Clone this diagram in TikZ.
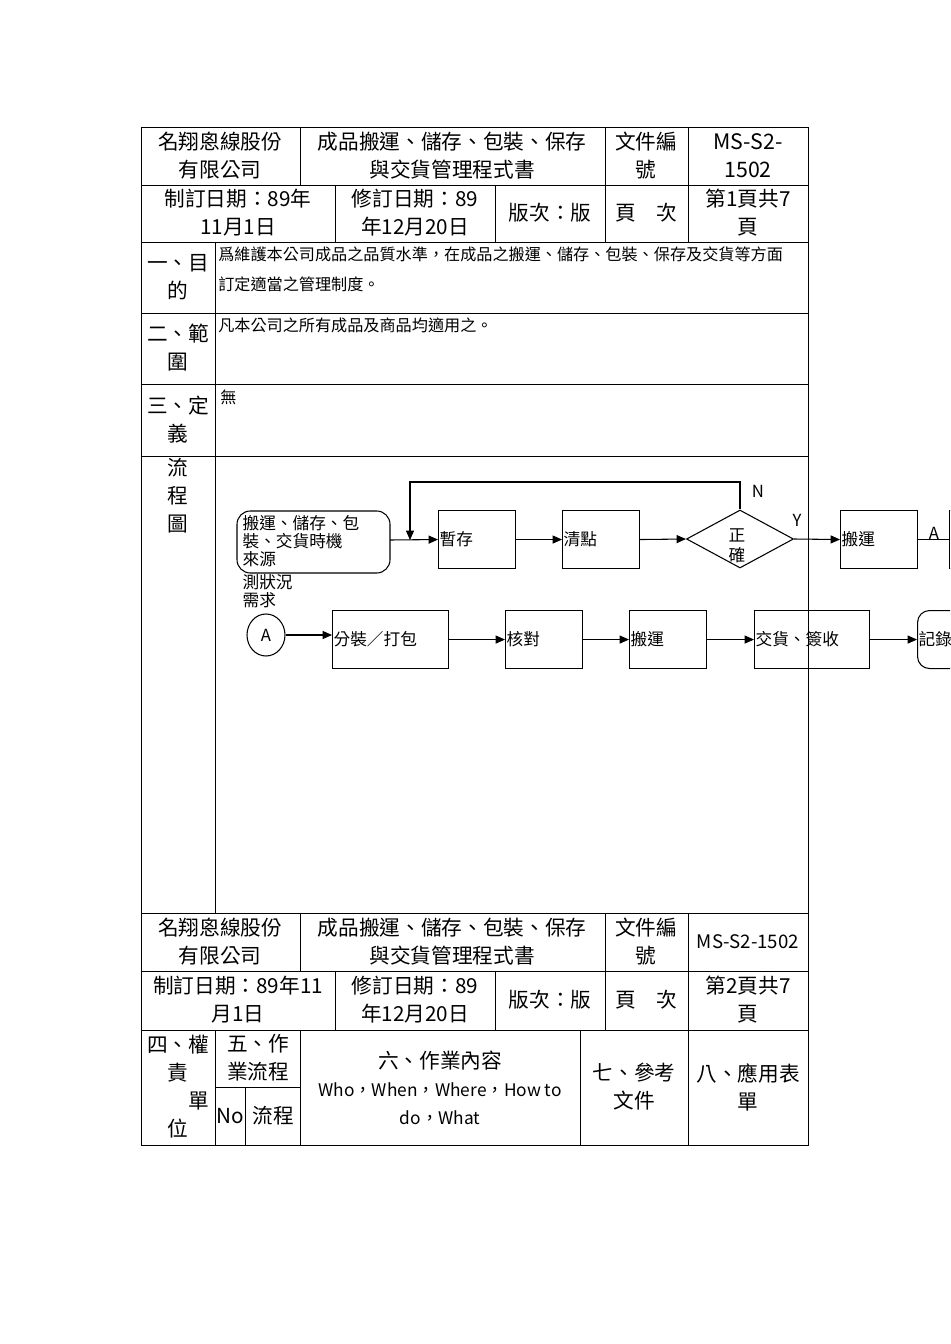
\documentclass[tikz,border=0pt]{standalone}
\usepackage{fontspec}
\setmainfont{Noto Sans CJK TC}
\usetikzlibrary{arrows.meta,shapes.geometric}
\begin{document}
\begin{tikzpicture}[x=0.75pt,y=-0.75pt,
  grid/.style={line width=0.6pt},
  hd/.style={font=\fontsize{15.5}{21}\selectfont,align=center,inner sep=0pt},
  bd/.style={font=\fontsize{12.1}{22}\selectfont,anchor=north west,align=left,inner sep=0pt},
  fbox/.style={draw,line width=0.8pt,anchor=north west,inner sep=0pt},
  ft/.style={font=\fontsize{12.5}{13}\selectfont,anchor=west,inner sep=1pt},
  arr/.style={line width=0.8pt,-{Triangle[length=7pt,width=6pt]}}]
\useasboundingbox (0,0) rectangle (950,1344);
\begin{scope}
\clip (0,0) rectangle (950,1344);
% ---- table 1 ----
\draw[grid] (141,127) rectangle (808,913);
\foreach \y in {185,242,313,384,456} \draw[grid] (141,\y) -- (808,\y);
\foreach \x in {300,605,688} \draw[grid] (\x,127) -- (\x,185);
\foreach \x in {335,495,605,688} \draw[grid] (\x,185) -- (\x,242);
\draw[grid] (215,242) -- (215,913);
% ---- table 2 ----
\draw[grid] (141,913) rectangle (808,1145);
\foreach \y in {971,1030} \draw[grid] (141,\y) -- (808,\y);
\foreach \x in {300,605,688} \draw[grid] (\x,913) -- (\x,971);
\foreach \x in {335,495,605,688} \draw[grid] (\x,971) -- (\x,1030);
\foreach \x in {215,300,580,688} \draw[grid] (\x,1030) -- (\x,1145);
\draw[grid] (215,1087) -- (300,1087);
\draw[grid] (245,1087) -- (245,1145);
% ---- header texts page 1 ----
\node[hd] (h1) at (220,156) {名翔恖線股份\\有限公司};
\node[hd] (h2) at (452,156) {成品搬運、儲存、包裝、保存\\與交貨管理程式書};
\node[hd] (h3) at (646,156) {文件編\\號};
\node[hd,font=\fontsize{16}{21}\selectfont] (h4) at (748,156) {MS-S2-\\1502};
\node[hd] (h5) at (238,213) {制訂日期：89年\\11月1日};
\node[hd] (h6) at (415,213) {修訂日期：89\\年12月20日};
\node[hd] (h7) at (550,213) {版次：版};
\node[hd] (h8) at (646,213) {頁\quad 次};
\node[hd] (h9) at (748,213) {第1頁共7\\頁};
% ---- section labels ----
\node[hd] (s1) at (178,277) {一、目\\的};
\node[hd] (s2) at (178,348) {二、範\\圍};
\node[hd] (s3) at (178,420) {三、定\\義};
\node[hd,anchor=north] (s4) at (178,458) {流\\程\\圖};
\node[bd] (b1) at (218,247) {爲維護本公司成品之品質水準，在成品之搬運、儲存、包裝、保存及交貨等方面\\訂定適當之管理制度。};
\node[bd] (b2) at (218,318) {凡本公司之所有成品及商品均適用之。};
\node[bd] (b3) at (220,390) {無};
% ---- header texts page 2 ----
\node[hd] (k1) at (220,942) {名翔恖線股份\\有限公司};
\node[hd] (k2) at (452,942) {成品搬運、儲存、包裝、保存\\與交貨管理程式書};
\node[hd] (k3) at (646,942) {文件編\\號};
\node[hd,font=\fontsize{14}{21}\selectfont] (k4) at (748,942) {MS-S2-1502};
\node[hd] (k5) at (238,1000) {制訂日期：89年11\\月1日};
\node[hd] (k6) at (415,1000) {修訂日期：89\\年12月20日};
\node[hd] (k7) at (550,1000) {版次：版};
\node[hd] (k8) at (646,1000) {頁\quad 次};
\node[hd] (k9) at (748,1000) {第2頁共7\\頁};
\node[hd] (m1) at (178,1087) {四、權\\責\\\hfill 單\\位};
\node[hd] (m2) at (258,1058) {五、作\\業流程};
\node[hd] (m3) at (230,1116) {No};
\node[hd] (m4) at (273,1116) {流程};
\node[hd] (m5) at (440,1088) {六、作業內容\\{\fontsize{13}{21}\selectfont Who，When，Where，How to}\\{\fontsize{13}{21}\selectfont do，What}};
\node[hd] (m6) at (634,1087) {七、參考\\文件};
\node[hd] (m7) at (748,1087) {八、應用表\\單};
% ---- flowchart ----
\draw[line width=0.8pt,rounded corners=10pt] (237,511) rectangle (390,573);
\node[ft,anchor=north west,align=left,font=\fontsize{12.5}{13.5}\selectfont] (src) at (241,514) {搬運、儲存、包\\裝、交貨時機\\來源};
\coordinate (srcE) at (390,540);
\node[ft,anchor=north west,align=left,font=\fontsize{12.5}{13.5}\selectfont] (need) at (241,573) {測狀況\\需求};
\node[fbox,minimum width=77pt*0.75,minimum height=58pt*0.75] (t1) at (438,510) {};
\node[ft] at (t1.west) {暫存};
\node[fbox,minimum width=77pt*0.75,minimum height=58pt*0.75] (t2) at (562,510) {};
\node[ft] at (t2.west) {清點};
\node[draw,diamond,line width=0.8pt,aspect=1.85,minimum width=107pt*0.75,minimum height=58pt*0.75,inner sep=0pt] (d) at (740,539) {};
\node[ft,align=center,font=\fontsize{12.5}{15}\selectfont,anchor=center] (dt) at (737,546) {正\\確};
\node[fbox,minimum width=77pt*0.75,minimum height=58pt*0.75] (t3) at (840,510) {};
\node[ft] at (t3.west) {搬運};
\node[fbox,minimum width=77pt*0.75,minimum height=58pt*0.75] (t4) at (949,510) {};
\coordinate (fb) at (410,540);
\draw[arr] (srcE) -- (t1.west);
\draw[arr] (t1.east) -- (t2.west);
\draw[arr] (t2.east) -- (d.west);
\draw[arr] (d.east) -- (t3.west);
\draw[line width=0.8pt] (t3.east) -- (t4.west);
\draw[arr] (d.north) -- (740,482) -- (410,482) -- (fb);
\node[ft,anchor=center] (nl) at (758,491) {N};
\node[ft,anchor=center] (yl) at (797,520) {Y};
\node[ft,anchor=center] (al) at (934,533) {A};
\node[draw,ellipse,line width=0.8pt,minimum width=38pt*0.75,minimum height=42pt*0.75,inner sep=0pt] (ca) at (266,635) {};
\node[ft,anchor=center] at (ca) {A};
\node[fbox,minimum width=116pt*0.75,minimum height=58pt*0.75] (u1) at (332,610) {};
\node[ft] at (u1.west) {分裝／打包};
\node[fbox,minimum width=77pt*0.75,minimum height=58pt*0.75] (u2) at (505,610) {};
\node[ft] at (u2.west) {核對};
\node[fbox,minimum width=77pt*0.75,minimum height=58pt*0.75] (u3) at (629,610) {};
\node[ft] at (u3.west) {搬運};
\node[fbox,minimum width=115pt*0.75,minimum height=58pt*0.75] (u4) at (754,610) {};
\node[ft] at (u4.west) {交貨、簽收};
\node[fbox,rounded corners=9pt,minimum width=100pt*0.75,minimum height=58pt*0.75] (u5) at (917,610) {};
\node[ft] at (u5.west) {記錄};
\draw[arr] (ca.east) -- (ca.east -| u1.west);
\draw[arr] (u1.east) -- (u2.west);
\draw[arr] (u2.east) -- (u3.west);
\draw[arr] (u3.east) -- (u4.west);
\draw[arr] (u4.east) -- (u5.west);
\end{scope}
\end{tikzpicture}
\end{document}
